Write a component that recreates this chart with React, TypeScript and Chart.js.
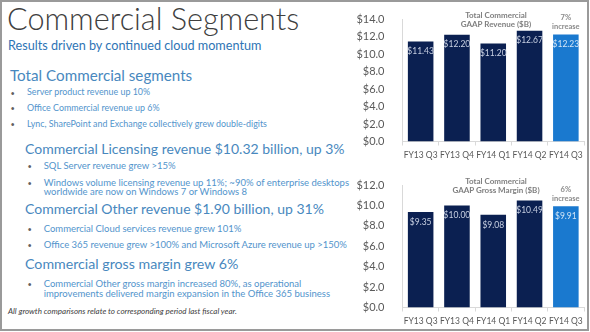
import React, { useEffect, useRef } from "react";
import { Chart, registerables } from "chart.js";

Chart.register(...registerables);

// ---------- data ----------
const quarters = ["FY13 Q3", "FY13 Q4", "FY14 Q1", "FY14 Q2", "FY14 Q3"];
const revenue = [11.43, 12.2, 11.2, 12.67, 12.23];
const grossMargin = [9.35, 10.0, 9.08, 10.49, 9.91];
const revenueMax = 14;
const marginMax = 12;
const tickStep = 2;
const revenueTitle = ["Total Commercial", "GAAP Revenue ($B)"];
const marginTitle = ["Total Commercial", "GAAP Gross Margin ($B)"];
const revenueGrowth = ["7%", "increase"];
const marginGrowth = ["6%", "increase"];

const FONT = "Lato, 'Open Sans', sans-serif";
const NAVY = "#0b2051";
const BLUE = "#1a79cf";

type BarProps = { values: number[]; max: number; growth: string[]; top: number };

function BarChart({ values, max, growth, top }: BarProps) {
  const ref = useRef<HTMLCanvasElement>(null);
  useEffect(() => {
    const last = values.length - 1;
    const colors = values.map((_, i) => (i === last ? BLUE : NAVY));
    const labelPlugin = {
      id: "valueLabels",
      afterDatasetsDraw(chart: any) {
        const ctx = chart.ctx;
        const meta = chart.getDatasetMeta(0);
        ctx.save();
        ctx.textAlign = "center";
        ctx.textBaseline = "middle";
        ctx.font = "8.5px Lato";
        meta.data.forEach((bar: any, i: number) => {
          ctx.fillStyle = i === last ? "#d4e6f6" : "#c8d0e2";
          ctx.fillText("$" + values[i].toFixed(2), bar.x, bar.y + 10);
        });
        const lb = meta.data[last];
        ctx.font = "bold 7.5px Lato";
        ctx.fillStyle = "#8a8a8a";
        ctx.fillText(growth[0], lb.x, lb.y - 17);
        ctx.fillText(growth[1], lb.x, lb.y - 8);
        ctx.restore();
      },
    };
    const chart = new Chart(ref.current as HTMLCanvasElement, {
      type: "bar",
      data: {
        labels: quarters,
        datasets: [
          {
            data: values,
            backgroundColor: colors,
            categoryPercentage: 0.8,
            barPercentage: 0.88,
          },
        ],
      },
      options: {
        animation: false,
        responsive: false,
        layout: { padding: { top: 19, right: 6, left: 0, bottom: 0 } },
        plugins: { legend: { display: false }, tooltip: { enabled: false } },
        scales: {
          x: {
            grid: {
              display: true,
              drawOnChartArea: false,
              drawTicks: true,
              tickLength: 4,
              color: "#d9d9d9",
              offset: true,
            },
            border: { display: true, color: "#d9d9d9" },
            ticks: {
              color: "#595959",
              font: { family: "Lato", size: 8.5 },
              padding: 5,
              maxRotation: 0,
              autoSkip: false,
            },
            afterFit(s: any) {
              s.height = 24.5;
            },
          },
          y: {
            min: 0,
            max,
            ticks: {
              stepSize: tickStep,
              callback: (v: any) => "$" + Number(v).toFixed(1),
              color: "#595959",
              font: { family: "Lato", size: 11 },
              padding: 10,
            },
            grid: { display: false },
            border: { display: true, color: "#d9d9d9" },
            afterFit(s: any) {
              s.width = 52.5;
            },
          },
        },
      } as any,
      plugins: [labelPlugin],
    });
    return () => chart.destroy();
  }, [values, max, growth]);
  return (
    <canvas
      ref={ref}
      width={240}
      height={166}
      style={{ position: "absolute", left: 350, top, width: 240, height: 166 }}
    />
  );
}

type TProps = {
  x: number;
  base: number;
  size: number;
  color: string;
  text: string;
  weight?: number;
  italic?: boolean;
};

function T({ x, base, size, color, text, weight = 400, italic = false }: TProps) {
  return (
    <div
      style={{
        position: "absolute",
        left: x,
        top: base - 0.987 * size,
        fontSize: size,
        lineHeight: `${1.2 * size}px`,
        fontFamily: FONT,
        color,
        fontWeight: weight,
        fontStyle: italic ? "italic" : "normal",
        whiteSpace: "nowrap",
      }}
    >
      {text}
    </div>
  );
}

function Center({ cx, cy, size, color, text }: { cx: number; cy: number; size: number; color: string; text: string }) {
  return (
    <div
      style={{
        position: "absolute",
        left: cx - 70,
        width: 140,
        top: cy - size * 0.6,
        height: size * 1.2,
        lineHeight: `${size * 1.2}px`,
        fontSize: size,
        fontFamily: FONT,
        fontWeight: 700,
        color,
        textAlign: "center",
        whiteSpace: "nowrap",
      }}
    >
      {text}
    </div>
  );
}

const HEAD = "#4888be";
const BUL = "#5294cc";
const DOT = "#606060";

export default function App() {
  const bullet = (x: number, tx: number, base: number, size: number, text: string) => (
    <React.Fragment key={text}>
      <T x={x} base={base} size={7.5} color={DOT} text="•" />
      <T x={tx} base={base} size={size} color={BUL} text={text} />
    </React.Fragment>
  );
  return (
    <div
      style={{
        position: "fixed",
        left: 0,
        top: 0,
        width: 590,
        height: 332,
        background: "#ffffff",
        overflow: "hidden",
      }}
    >
      <T x={7} base={31.7} size={30.6} weight={300} color="#404040" text="Commercial Segments" />
      <T x={8} base={50.5} size={12.65} color="#2e74b5" text="Results driven by continued cloud momentum" />
      <T x={10} base={80.7} size={15.2} color={HEAD} text="Total Commercial segments" />
      {bullet(10.5, 27, 96, 8.9, "Server product revenue up 10%")}
      {bullet(10.5, 27, 111.5, 8.9, "Office Commercial revenue up 6%")}
      {bullet(10.5, 27, 127.5, 8.9, "Lync, SharePoint and Exchange collectively grew double-digits")}

      <T x={25} base={155} size={14} color={HEAD} text="Commercial Licensing revenue $10.32 billion, up 3%" />
      {bullet(27.5, 43.7, 169.5, 9.5, "SQL Server revenue grew >15%")}
      {bullet(27.5, 43.7, 186.5, 9.5, "Windows volume licensing revenue up 11%; ~90% of enterprise desktops")}
      <T x={43.7} base={195.5} size={9.5} color={BUL} text="worldwide are now on Windows 7 or Windows 8" />

      <T x={25} base={215} size={14} color={HEAD} text="Commercial Other revenue $1.90 billion, up 31%" />
      {bullet(27.5, 43.7, 232.3, 9.5, "Commercial Cloud services revenue grew 101%")}
      {bullet(27.5, 43.7, 248.3, 9.5, "Office 365 revenue grew >100% and Microsoft Azure revenue up >150%")}

      <T x={25} base={269} size={14.2} color={HEAD} text="Commercial gross margin grew 6%" />
      {bullet(27.5, 43.7, 287.3, 9.5, "Commercial Other gross margin increased 80%, as operational")}
      <T x={43.7} base={297.3} size={9.5} color={BUL} text="improvements delivered margin expansion in the Office 365 business" />

      <T x={8} base={315} size={8} italic color="#404040" text="All growth comparisons relate to corresponding period last fiscal year." />

      <BarChart values={revenue} max={revenueMax} growth={revenueGrowth} top={0} />
      <BarChart values={grossMargin} max={marginMax} growth={marginGrowth} top={166} />

      <Center cx={496} cy={15.3} size={8} color="#7f7f7f" text={revenueTitle[0]} />
      <Center cx={496} cy={24.5} size={8} color="#7f7f7f" text={revenueTitle[1]} />
      <Center cx={496} cy={181.7} size={8} color="#7f7f7f" text={marginTitle[0]} />
      <Center cx={496} cy={190.5} size={8} color="#7f7f7f" text={marginTitle[1]} />

      <div
        style={{
          position: "absolute",
          left: 0,
          top: 0,
          width: 589,
          height: 331,
          boxSizing: "border-box",
          border: "2px solid #9a9a9a",
          pointerEvents: "none",
        }}
      />
    </div>
  );
}
